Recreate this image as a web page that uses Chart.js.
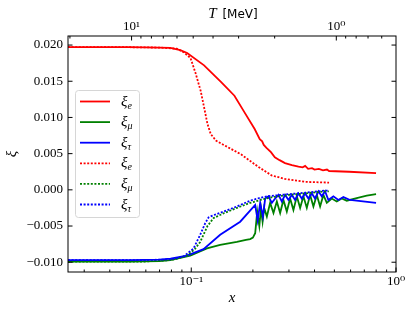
<!DOCTYPE html>
<html>
<head>
<meta charset="utf-8">
<script src="https://cdn.jsdelivr.net/npm/chart.js@4/dist/chart.umd.min.js"></script>
<style>body{margin:0;background:#fff}</style>
</head>
<body>
<canvas id="chart" width="415" height="311"></canvas>
<script>
"use strict";
// x = m_e / T , top axis is T in MeV
const ME = 0.511;
const xMin = 0.025, xMax = 1;
const yMin = -0.01135, yMax = 0.02125;

const xMajor = [0.1, 1];
const xMinor = [0.03,0.04,0.05,0.06,0.07,0.08,0.09,0.2,0.3,0.4,0.5,0.6,0.7,0.8,0.9];
const tMajor = [10, 1];
const tMinor = [20,9,8,7,6,5,4,3,2,0.9,0.8,0.7,0.6];
const yTicks = [-0.010,-0.005,0,0.005,0.010,0.015,0.020];

// [x, xi]
const xiE = [[0.025,0.0197],[0.05,0.0197],[0.07,0.01965],[0.079,0.0196],[0.0884,0.0193],[0.0955,0.0189],[0.1155,0.0172],[0.1396,0.0149],[0.1625,0.0130],[0.182,0.0107],[0.204,0.0084],[0.216,0.0070],[0.222,0.0067],[0.226,0.0062],[0.233,0.0058],[0.245,0.0052],[0.256,0.0045],[0.27,0.0041],[0.287,0.0037],[0.31,0.0034],[0.334,0.0032],[0.35,0.0031],[0.36,0.0033],[0.372,0.0029],[0.389,0.0030],[0.40,0.0028],[0.42,0.0029],[0.44,0.0027],[0.46,0.0028],[0.471,0.0026],[0.59,0.0025],[0.799,0.0023]];
const xiMu = [[0.025,-0.0099],[0.05,-0.0099],[0.07,-0.00985],[0.079,-0.0097],[0.0989,-0.0091],[0.1193,-0.0081],[0.1384,-0.0076],[0.167,-0.0072],[0.185,-0.0069],[0.194,-0.0068],[0.2,-0.0066],[0.2052,-0.0060],[0.2100,-0.0030],[0.2150,-0.0050],[0.2190,-0.0026],[0.2230,-0.0044],[0.2270,-0.0025],[0.2340,-0.0037],[0.2428,-0.0018],[0.2521,-0.0032],[0.2618,-0.0016],[0.2717,-0.0032],[0.2819,-0.0014],[0.2929,-0.0030],[0.3040,-0.0012],[0.3155,-0.0028],[0.3278,-0.0009],[0.3402,-0.0025],[0.3530,-0.0009],[0.3667,-0.0025],[0.3806,-0.0007],[0.3950,-0.0023],[0.4104,-0.0007],[0.4259,-0.0023],[0.4419,-0.0007],[0.4592,-0.0018],[0.4856,-0.0012],[0.5136,-0.0016],[0.5433,-0.0012],[0.5746,-0.0015],[0.65,-0.0011],[0.72,-0.0008],[0.799,-0.0006]];
const xiTau = [[0.025,-0.0097],[0.05,-0.0097],[0.07,-0.00965],[0.0792,-0.0095],[0.0953,-0.0091],[0.1148,-0.0082],[0.1384,-0.0062],[0.1734,-0.0044],[0.1977,-0.0026],[0.2052,-0.0021],[0.2110,-0.0042],[0.2171,-0.0018],[0.2238,-0.0037],[0.2296,-0.0012],[0.2383,-0.0009],[0.2475,-0.0018],[0.2570,-0.0012],[0.2666,-0.0007],[0.2769,-0.0016],[0.2874,-0.0007],[0.2983,-0.0014],[0.3099,-0.0007],[0.3216,-0.0014],[0.3338,-0.0005],[0.3467,-0.0012],[0.3598,-0.0005],[0.3735,-0.0012],[0.3879,-0.0005],[0.4026,-0.0012],[0.4178,-0.0002],[0.4341,-0.0009],[0.4504,-0.0002],[0.4675,-0.0014],[0.4944,-0.0009],[0.5232,-0.0014],[0.5533,-0.0010],[0.5966,-0.0014],[0.799,-0.0018]];
const xiE2 = [[0.025,0.0197],[0.05,0.0197],[0.07,0.01965],[0.085,0.0195],[0.0919,0.0190],[0.0992,0.0182],[0.105,0.0161],[0.1111,0.0137],[0.1155,0.0114],[0.120,0.0091],[0.1245,0.0077],[0.132,0.0068],[0.1507,0.0059],[0.175,0.0049],[0.212,0.0032],[0.2466,0.0020],[0.287,0.0015],[0.36,0.0011],[0.471,0.0010]];
const xiMu2 = [[0.025,-0.0099],[0.06,-0.0099],[0.08,-0.0097],[0.095,-0.0091],[0.104,-0.0082],[0.1106,-0.0072],[0.12,-0.0050],[0.1285,-0.0039],[0.145,-0.0032],[0.167,-0.0025],[0.194,-0.0018],[0.2171,-0.0014],[0.25,-0.0010],[0.30,-0.0007],[0.36,-0.0005],[0.453,-0.0002],[0.47,-0.0002]];
const xiTau2 = [[0.025,-0.0097],[0.06,-0.0097],[0.08,-0.0096],[0.0917,-0.0092],[0.1026,-0.0081],[0.1106,-0.0062],[0.117,-0.0046],[0.1215,-0.0038],[0.1285,-0.0035],[0.1438,-0.0030],[0.167,-0.0023],[0.194,-0.0015],[0.2171,-0.0011],[0.234,-0.0009],[0.298,-0.0006],[0.36,-0.0004],[0.453,-0.0001],[0.47,-0.0001]];

const series = [xiE, xiMu, xiTau, xiE2, xiMu2, xiTau2];
const labels = ['ξ_e','ξ_μ','ξ_τ','ξ_e','ξ_μ','ξ_τ'];
const colors = ['#ff0000','#008000','#0000ff','#ff0000','#008000','#0000ff'];

const SERIF = '"Liberation Serif", "DejaVu Serif", serif';
const SUP = {'-':'⁻','0':'⁰','1':'¹','2':'²','3':'³'};
function pow10Label(v) {
  const e = String(Math.round(Math.log10(v)));
  return '10' + e.split('').map(c => SUP[c]).join('');
}

const frameTicks = {
  id: 'frameTicks',
  afterDraw(chart) {
    const ctx = chart.ctx, a = chart.chartArea;
    const sx = chart.scales.x, st = chart.scales.x2, sy = chart.scales.y;
    ctx.save();
    ctx.strokeStyle = '#000';
    ctx.lineWidth = 1;
    ctx.strokeRect(a.left, a.top, a.right - a.left, a.bottom - a.top);
    function line(x1, y1, x2, y2) {
      ctx.beginPath(); ctx.moveTo(x1, y1); ctx.lineTo(x2, y2); ctx.stroke();
    }
    // ticks point inward, on all four sides
    xMajor.forEach(v => { const p = sx.getPixelForValue(v); line(p, a.bottom, p, a.bottom - 4.5); });
    xMinor.forEach(v => { const p = sx.getPixelForValue(v); line(p, a.bottom, p, a.bottom - 2.5); });
    tMajor.forEach(v => { const p = st.getPixelForValue(v); line(p, a.top, p, a.top + 4.5); });
    tMinor.forEach(v => { const p = st.getPixelForValue(v); line(p, a.top, p, a.top + 2.5); });
    yTicks.forEach(v => {
      const p = sy.getPixelForValue(v);
      line(a.left, p, a.left + 4.5, p);
      line(a.right, p, a.right - 4.5, p);
    });

    // top title: T [MeV]
    ctx.fillStyle = '#000';
    ctx.textBaseline = 'alphabetic';
    ctx.font = 'italic 15px ' + SERIF;
    const wT = ctx.measureText('T').width;
    ctx.font = '12px "DejaVu Sans"';
    const wU = ctx.measureText(' [MeV]').width;
    let x0 = (a.left + a.right) / 2 - (wT + wU) / 2;
    ctx.font = 'italic 15px ' + SERIF;
    ctx.fillText('T', x0, 18);
    ctx.font = '12px "DejaVu Sans"';
    ctx.fillText(' [MeV]', x0 + wT + 2, 18);

    // legend
    const bx = 75.5, by = 90.5, bw = 64, bh = 127;
    ctx.beginPath();
    ctx.roundRect(bx, by, bw, bh, 3);
    ctx.fillStyle = 'rgba(255,255,255,0.8)';
    ctx.fill();
    ctx.strokeStyle = '#d6d6d6';
    ctx.stroke();
    chart.data.datasets.forEach((ds, i) => {
      const y = 101.5 + i * 20.6;
      ctx.strokeStyle = ds.borderColor;
      ctx.lineWidth = ds.borderWidth;
      ctx.setLineDash(ds.borderDash || []);
      line(80, y, 110, y);
      ctx.setLineDash([]);
      const parts = ds.label.split('_');
      ctx.fillStyle = '#000';
      ctx.font = 'italic 15px ' + SERIF;
      ctx.fillText(parts[0], 121, y + 4);
      const w = ctx.measureText(parts[0]).width;
      ctx.font = 'italic 10px ' + SERIF;
      ctx.fillText(parts[1], 121 + w, y + 7);
    });
    ctx.restore();
  }
};

new Chart(document.getElementById('chart'), {
  type: 'line',
  data: {
    datasets: series.map((s, i) => ({
      label: labels[i],
      data: s.map(p => ({x: p[0], y: p[1]})),
      borderColor: colors[i],
      borderWidth: 1.8,
      borderDash: i < 3 ? [] : [2, 1.6],
      pointRadius: 0,
      tension: 0,
      fill: false,
      order: 5 - i
    }))
  },
  options: {
    responsive: false,
    animation: false,
    devicePixelRatio: 1,
    layout: { padding: { left: 0, right: 19, top: 0, bottom: 0 } },
    plugins: { legend: { display: false }, tooltip: { enabled: false } },
    scales: {
      x: {
        type: 'logarithmic', position: 'bottom', min: xMin, max: xMax, bounds: 'data',
        grid: { display: false, drawTicks: false }, border: { display: false },
        afterBuildTicks: s => { s.ticks = xMajor.map(v => ({value: v})); },
        afterFit: s => { s.height = 39; },
        ticks: { autoSkip: false, maxRotation: 0, padding: 2, color: '#000',
          font: { family: SERIF, size: 13 }, callback: v => pow10Label(v) },
        title: { display: true, text: 'x', color: '#000', padding: { top: 0, bottom: 4 },
          font: { family: SERIF, size: 15, style: 'italic' } }
      },
      x2: {
        type: 'logarithmic', position: 'top', reverse: true, min: ME / xMax, max: ME / xMin, bounds: 'data',
        grid: { display: false, drawTicks: false }, border: { display: false },
        afterBuildTicks: s => { s.ticks = tMajor.map(v => ({value: v})); },
        afterFit: s => { s.height = 36; },
        ticks: { autoSkip: false, maxRotation: 0, padding: 2, color: '#000',
          font: { family: SERIF, size: 13 }, callback: v => pow10Label(v) }
      },
      y: {
        type: 'linear', min: yMin, max: yMax,
        grid: { display: false, drawTicks: false }, border: { display: false },
        afterBuildTicks: s => { s.ticks = yTicks.map(v => ({value: v})); },
        afterFit: s => { s.width = 68; },
        ticks: { padding: 5, color: '#000', font: { family: SERIF, size: 13 },
          callback: v => (v < 0 ? '\u2212' : '') + Math.abs(v).toFixed(3) },
        title: { display: true, text: 'ξ', color: '#000', padding: { top: 3, bottom: 0 },
          font: { family: SERIF, size: 15, style: 'italic' } }
      }
    }
  },
  plugins: [frameTicks]
});
</script>
</body>
</html>
